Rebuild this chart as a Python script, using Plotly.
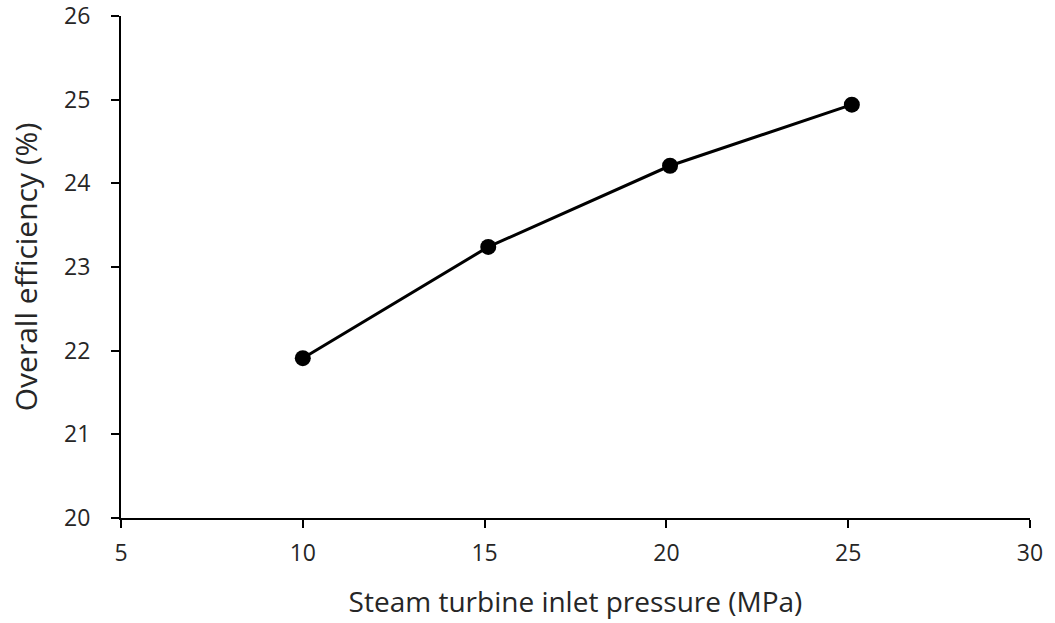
import plotly.graph_objects as go

pressure = [10.0, 15.1, 20.1, 25.1]
efficiency = [21.91, 23.24, 24.21, 24.94]

x_ticks = [5, 10, 15, 20, 25, 30]
y_ticks = [20, 21, 22, 23, 24, 25, 26]

fig = go.Figure()
fig.add_trace(go.Scatter(
    x=pressure, y=efficiency, mode="lines+markers",
    line=dict(color="black", width=3),
    marker=dict(color="black", size=16),
    showlegend=False,
))

font_family = "Open Sans, Liberation Sans, sans-serif"
fig.update_layout(
    width=1055, height=623,
    margin=dict(l=121, r=25, t=16, b=105),
    paper_bgcolor="white", plot_bgcolor="white",
    font=dict(family=font_family, color="#262626"),
    xaxis=dict(
        range=[5, 30], tickvals=x_ticks, showgrid=False, zeroline=False,
        showline=True, linecolor="black", linewidth=2, automargin=False,
        ticks="outside", ticklen=8, tickwidth=2, tickcolor="black",
        tickfont=dict(size=23), ticklabelstandoff=5, ticklabeloverflow="allow",
        title=dict(text="Steam turbine inlet pressure (MPa)", font=dict(size=28), standoff=26),
    ),
    yaxis=dict(
        range=[20, 26], tickvals=y_ticks, showgrid=False, zeroline=False,
        showline=True, linecolor="black", linewidth=2, automargin=False,
        ticks="outside", ticklen=8, tickwidth=2, tickcolor="black",
        tickfont=dict(size=23), ticklabelstandoff=16, ticklabeloverflow="allow",
        title=dict(text="Overall efficiency (%)", font=dict(size=30), standoff=18),
    ),
)

fig.write_html("out.html")
